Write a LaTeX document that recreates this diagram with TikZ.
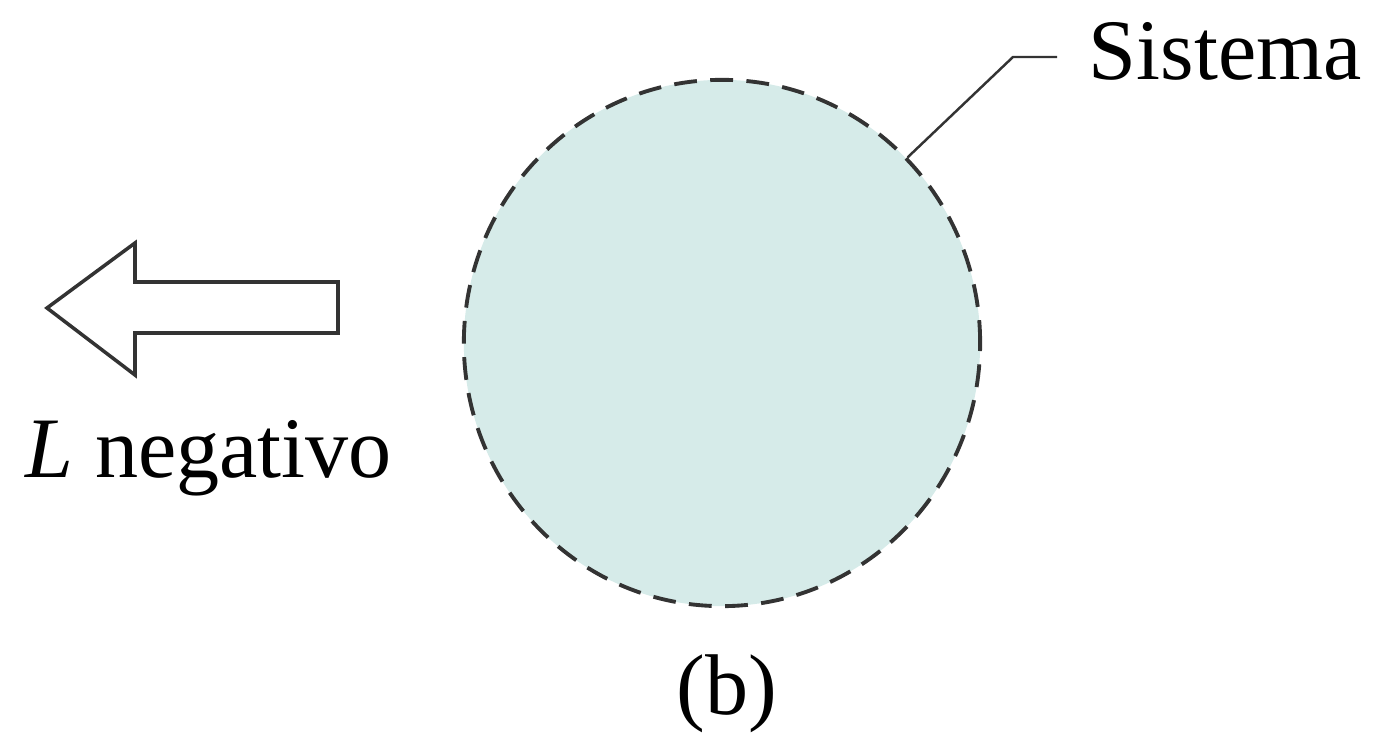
\documentclass[tikz,border=0pt]{standalone}
\usepackage{fontspec}
\setmainfont{Liberation Serif}
\usepackage{xcolor}
\usetikzlibrary{positioning,shapes.geometric}
\definecolor{sysFill}{HTML}{D6EBE9}
\definecolor{lineGray}{HTML}{333333}

\begin{document}
\begin{tikzpicture}[
    x=0.01cm,y=-0.01cm,
    every node/.style={font=\fontsize{24.5}{29}\selectfont},
    sysbody/.style={ellipse,draw=lineGray,fill=sysFill,line width=1.1pt,
                    dash pattern=on 6.5pt off 3.8pt,inner sep=0pt,
                    minimum width=5.16cm,minimum height=5.26cm},
    blockarrow/.style={draw=lineGray,fill=white,line width=1pt,line join=miter},
    leader/.style={draw=lineGray,line width=0.7pt},
    lab/.style={inner sep=0pt,anchor=base west}
  ]
  \useasboundingbox (0,0) rectangle (1378,737);
  %% The system, drawn with a dashed boundary
  \node[sysbody] (sys) at (722,343) {};
  \node[lab] (sysname) at (1088,80) {Sistema};
  \coordinate (knee) at (1013,57);
  \coordinate (kneeEnd) at (1057,57);
  \draw[leader] (sys.45) -- (knee) -- (kneeEnd);
  %% Work arrow leaving the system
  \draw[blockarrow] (47,308) -- (135,243) -- (135,282) -- (338,282)
        -- (338,333) -- (135,333) -- (135,375) -- cycle;
  \node[lab] (work) at (25,478) {\textit{L} negativo};
  %% Caption
  \node[inner sep=0pt,anchor=base] (cap) at (727,715) {(b)};
\end{tikzpicture}
\end{document}
